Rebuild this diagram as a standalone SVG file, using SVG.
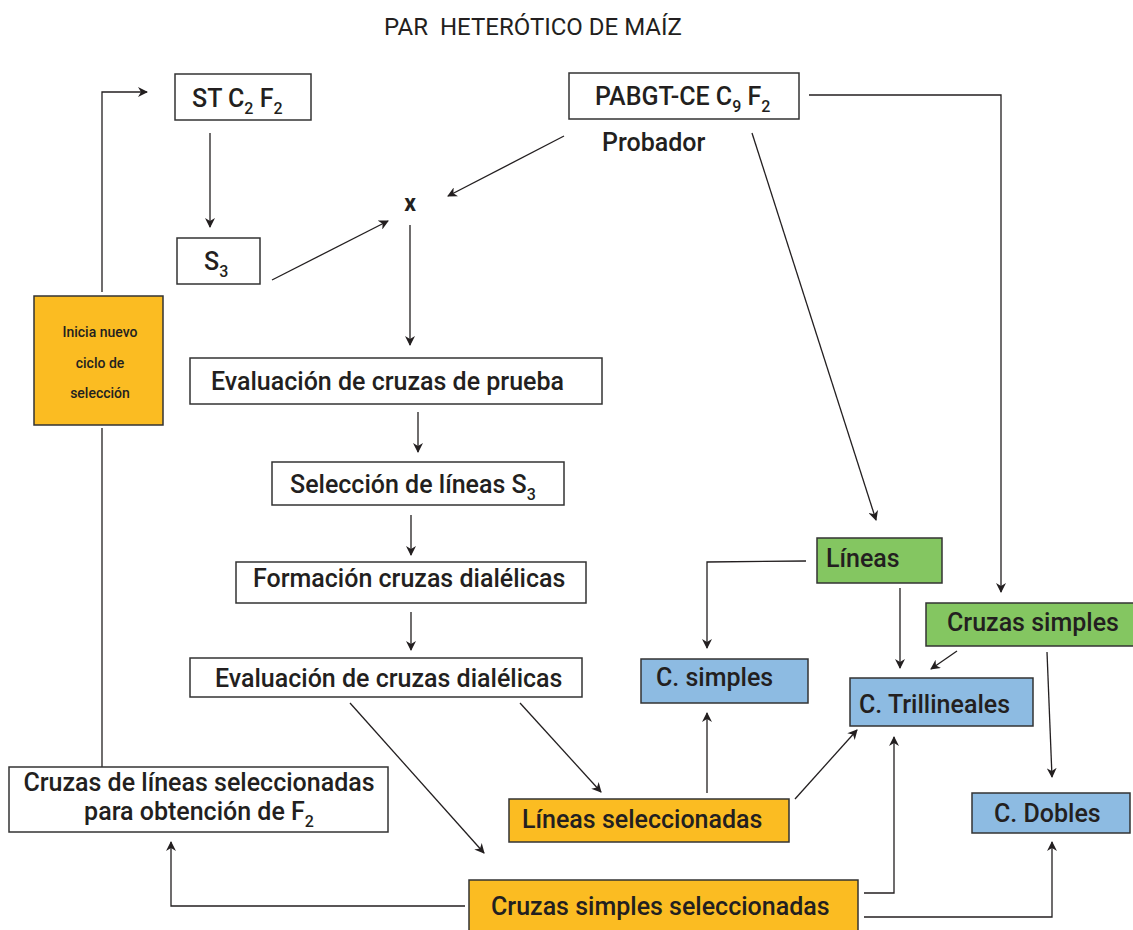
<svg xmlns="http://www.w3.org/2000/svg" width="1133" height="930" viewBox="0 0 1133 930">
<defs>
<marker id="ah" markerWidth="10" markerHeight="10" refX="9" refY="5" orient="auto" markerUnits="userSpaceOnUse">
<path d="M0,0 L10,5 L0,10 L3,5 z" fill="#231f20"/>
</marker>
<style>
.t{font-family:Roboto,"Liberation Sans",sans-serif;fill:#231f20;font-size:25px;font-weight:500}
.s{font-size:16px}
.b{stroke:#333;stroke-width:1.5}
.w{fill:#fff}
.o{fill:#fbbc22}
.g{fill:#84c661}
.bl{fill:#8dbbe2}
.c{fill:none;stroke:#231f20;stroke-width:1.3;marker-end:url(#ah)}
.n{fill:none;stroke:#231f20;stroke-width:1.3}
</style>
</defs>
<rect width="1133" height="930" fill="#fff"/>
<text class="t" x="533" y="35" text-anchor="middle" style="font-size:24px;font-weight:400;white-space:pre">PAR  HETERÓTICO DE MAÍZ</text>

<g id="connectors">
<path class="c" d="M102,292 V92 H147"/>
<path class="c" d="M210,133 V227"/>
<path class="c" d="M272,280 L388,221"/>
<path class="c" d="M564,136 L448,196"/>
<path class="c" d="M410,225 V345"/>
<path class="c" d="M418,412 V452"/>
<path class="c" d="M411,515 V555"/>
<path class="c" d="M411,612 V650"/>
<path class="n" d="M102,428 V767"/>
<path class="c" d="M465,906 H171 V842"/>
<path class="c" d="M350,703 L484,853"/>
<path class="c" d="M520,703 L601,792"/>
<path class="c" d="M707,793 V713"/>
<path class="c" d="M795,799 L857,730"/>
<path class="c" d="M864,893 H894 V737"/>
<path class="c" d="M864,917 H1052 V842"/>
<path class="c" d="M809,95 H1001 V592"/>
<path class="c" d="M752,133 L876,520"/>
<path class="c" d="M806,561 L707,562 V648"/>
<path class="c" d="M900,588 V668"/>
<path class="c" d="M957,651 L931,669"/>
<path class="c" d="M1047,652 L1052,777"/>
</g>

<g id="st">
<rect class="b w" x="175" y="74" width="136" height="46"/>
<text class="t" x="192" y="107">ST C<tspan dy="7" class="s">2</tspan><tspan dy="-7"> F</tspan><tspan dy="7" class="s">2</tspan></text>
</g>
<g id="s3">
<rect class="b w" x="177" y="238" width="83" height="46"/>
<text class="t" x="204" y="270">S<tspan dy="7" class="s">3</tspan></text>
</g>
<g id="x">
<text class="t" x="410" y="211" text-anchor="middle" style="font-size:23px;font-weight:700">x</text>
</g>
<g id="pabgt">
<rect class="b w" x="569" y="73" width="230" height="46"/>
<text class="t" x="595" y="105">PABGT-CE C<tspan dy="7" class="s">9</tspan><tspan dy="-7"> F</tspan><tspan dy="7" class="s">2</tspan></text>
</g>
<g id="probador">
<text class="t" x="602" y="151">Probador</text>
</g>
<g id="inicia">
<rect class="b o" x="34" y="296" width="129" height="129"/>
<text class="t" x="100" y="337" text-anchor="middle" style="font-size:14px">Inicia nuevo</text>
<text class="t" x="100" y="368" text-anchor="middle" style="font-size:14px">ciclo de</text>
<text class="t" x="100" y="398" text-anchor="middle" style="font-size:14px">selección</text>
</g>
<g id="evalprueba">
<rect class="b w" x="190" y="358" width="412" height="46"/>
<text class="t" x="211" y="390">Evaluación de cruzas de prueba</text>
</g>
<g id="seleccion">
<rect class="b w" x="272" y="462" width="292" height="43"/>
<text class="t" x="290" y="493">Selección de líneas S<tspan dy="7" class="s">3</tspan></text>
</g>
<g id="formacion">
<rect class="b w" x="236" y="562" width="350" height="41"/>
<text class="t" x="253" y="587">Formación cruzas dialélicas</text>
</g>
<g id="evaldial">
<rect class="b w" x="190" y="658" width="392" height="39"/>
<text class="t" x="215" y="687">Evaluación de cruzas dialélicas</text>
</g>
<g id="cruzaslineas">
<rect class="b w" x="9" y="767" width="379" height="65"/>
<text class="t" x="199" y="791" text-anchor="middle">Cruzas de líneas seleccionadas</text>
<text class="t" x="199" y="820" text-anchor="middle">para obtención de F<tspan dy="7" class="s">2</tspan></text>
</g>
<g id="lineassel">
<rect class="b o" x="509" y="799" width="280" height="43"/>
<text class="t" x="522" y="828">Líneas seleccionadas</text>
</g>
<g id="cruzassimplessel">
<rect class="b o" x="469" y="880" width="389" height="52"/>
<text class="t" x="491" y="915">Cruzas simples seleccionadas</text>
</g>
<g id="lineas">
<rect class="b g" x="817" y="538" width="125" height="45"/>
<text class="t" x="826" y="567">Líneas</text>
</g>
<g id="cruzassimples">
<rect class="b g" x="926" y="603" width="210" height="43"/>
<text class="t" x="947" y="631">Cruzas simples</text>
</g>
<g id="csimples">
<rect class="b bl" x="641" y="659" width="167" height="44"/>
<text class="t" x="656" y="686">C. simples</text>
</g>
<g id="ctrilineales">
<rect class="b bl" x="850" y="678" width="183" height="48"/>
<text class="t" x="859" y="713">C. Trillineales</text>
</g>
<g id="cdobles">
<rect class="b bl" x="972" y="793" width="158" height="40"/>
<text class="t" x="994" y="822">C. Dobles</text>
</g>
</svg>
